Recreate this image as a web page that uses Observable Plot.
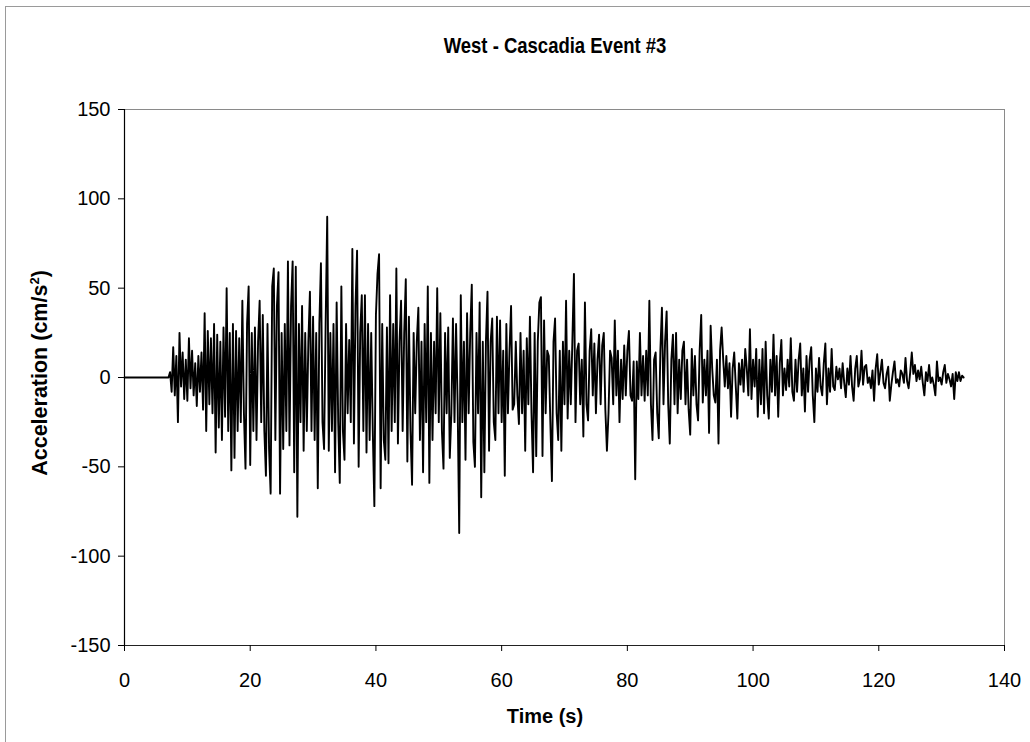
<!DOCTYPE html>
<html>
<head>
<meta charset="utf-8">
<script src="https://cdn.jsdelivr.net/npm/d3@7"></script>
<script src="https://cdn.jsdelivr.net/npm/@observablehq/plot@0.6"></script>
<style>
  html, body { margin: 0; padding: 0; background: #fff; }
  #wrap { position: relative; width: 1030px; height: 742px; overflow: hidden; font-family: Arial, "Liberation Sans", sans-serif; color: #000; }
  #outer { position: absolute; left: 5px; top: 6px; width: 1030px; height: 742px; border-left: 1px solid #9a9a9a; border-top: 1px solid #9a9a9a; }
  #title { position: absolute; left: 115px; width: 880px; top: 33px; text-align: center; font-weight: bold; font-size: 21.5px; line-height: 26px; transform: scaleX(0.86); }
  #xlabel { position: absolute; left: 345px; width: 400px; top: 705px; text-align: center; font-weight: bold; font-size: 20px; line-height: 22px; }
  #ylabel { position: absolute; left: 40px; top: 373px; transform: translate(-50%, -50%) rotate(-90deg); white-space: nowrap; font-weight: bold; font-size: 21.5px; line-height: 24px; }
  #ylabel sup { font-size: 13px; line-height: 0; }
  #chart { position: absolute; left: 0; top: 0; }
</style>
</head>
<body>
<div id="wrap">
  <div id="outer"></div>
  <div id="chart"></div>
  <div id="title">West - Cascadia Event #3</div>
  <div id="xlabel">Time (s)</div>
  <div id="ylabel">Acceleration (cm/s<sup>2</sup>)</div>
</div>
<script>
// Axis ticks
const xTicks = [0, 20, 40, 60, 80, 100, 120, 140];
const yTicks = [-150, -100, -50, 0, 50, 100, 150];

// Quiet record before the event arrives (s, cm/s^2)
const preEventTime = [0];
const preEventAccel = [0];

// Recorded acceleration, sampled every 0.25 s starting at t = 7.0 s (cm/s^2)
const sampleStart = 7.0;
const sampleStep = 0.25;

// 7.0 – 31.75 s
const accel07to32 = [
  0,3,-8,17,-10,12,-25,25,-5,14,-12,10,-13,22,-6,15,-10,8,-16,12,
  -8,14,-18,36,-30,26,-15,22,-20,30,-42,24,-28,20,-35,28,-22,50,-30,25,
  -52,30,-45,26,-30,22,-25,43,-20,-51,30,51,-49,25,-30,28,-35,20,43,-25,
  35,-30,-55,30,-40,-65,51,61,-35,40,59,-65,25,-40,30,-30,65,-38,40,65,
  -53,62,-78,30,-25,40,-41,25,-30,20,48,-30,34,-35,25,-62,30,64,-25,-40
];
// 32.0 – 56.75 s
const accel32to57 = [
  30,90,-41,25,-30,30,-53,42,-25,-59,51,-30,-46,30,-20,21,-25,72,-37,40,
  71,-50,25,46,-30,46,-42,30,-35,25,-30,-72,35,58,69,-62,30,-35,-46,28,
  -48,46,-30,30,-25,61,-37,20,43,-30,25,55,-47,34,-30,-60,25,-20,20,39,
  -35,20,-53,30,-25,51,-59,25,-35,20,-20,50,-25,36,-30,-51,25,-20,28,-45,
  -20,33,-25,30,-15,-87,46,-25,20,-46,36,-20,25,52,-36,-50,25,-20,42,-67
];
// 57.0 – 81.75 s
const accel57to82 = [
  20,-53,20,48,-41,20,33,-25,-35,34,-20,32,-25,15,-55,30,-20,15,40,-18,
  -15,20,-10,-26,25,-20,15,-41,22,-15,34,-20,-53,25,-44,20,42,45,-44,32,
  -20,15,12,-25,-58,20,33,-20,-35,15,-41,20,-15,43,-23,15,-15,20,58,-25,
  15,19,-15,10,-33,42,-15,-24,15,27,-10,19,-20,10,24,-15,18,25,-18,-41,
  -20,15,11,-15,32,-10,15,-25,10,-12,18,-10,15,26,-10,-13,9,-57,9,-12
];
// 82.0 – 106.75 s
const accel82to107 = [
  25,-10,12,-13,15,-10,43,-15,-35,10,14,-20,-34,15,39,-15,20,37,-15,-37,
  10,24,-15,25,-20,10,-12,15,20,-15,10,-18,-32,16,-10,12,-15,-24,15,35,
  -14,10,-10,15,-31,29,5,-10,-14,10,-37,15,28,10,-5,12,-6,8,-22,5,
  14,-5,-23,8,-4,10,-8,16,5,-10,27,-12,10,-5,16,-22,10,-15,16,-20,
  20,-10,-23,10,-8,24,-10,12,-22,8,21,-10,5,-7,10,-5,22,-8,-13,10
];
// 107.0 – 133.5 s
const accel107to134 = [
  -8,10,19,-10,5,-19,12,-8,10,17,-10,-25,5,-8,11,-5,-10,8,19,-15,
  5,-8,16,-5,-7,6,-1,5,-6,8,-3,-11,5,-4,12,-5,-13,5,12,-5,
  -1,15,-4,6,7,-3,0,-6,4,-13,5,13,-4,3,10,-3,-6,2,6,-13,
  -4,3,9,-3,-1,-5,4,2,-3,11,-2,-6,3,14,2,7,-2,4,-1,6,
  -3,-10,3,-2,7,-3,0,-4,-10,9,-2,0,-4,3,7,-3,2,-1,-5,2,
  -12,3,-2,3,-2,1,0
];

const recorded = [].concat(accel07to32, accel32to57, accel57to82, accel82to107, accel107to134);
const data = preEventTime.map((t, i) => ({t, a: preEventAccel[i]}))
  .concat(recorded.map((a, i) => ({t: sampleStart + i * sampleStep, a})));

const fmt = d => String(d);

const chart = Plot.plot({
  width: 1030,
  height: 742,
  marginLeft: 124,
  marginRight: 26,
  marginTop: 109,
  marginBottom: 97,
  style: {fontFamily: 'Arial, "Liberation Sans", sans-serif', fontSize: "20px", background: "transparent", color: "#000", overflow: "visible"},
  x: {domain: [0, 140]},
  y: {domain: [-150, 150]},
  marks: [
    Plot.frame({stroke: "#8a8a8a", strokeWidth: 1}),
    Plot.ruleX([0], {stroke: "#000", strokeWidth: 1.2}),
    Plot.ruleY([-150], {stroke: "#222", strokeWidth: 1.2}),
    Plot.axisX({ticks: xTicks, tickFormat: fmt, tickSize: 6, tickPadding: 21, label: null, fontSize: 20}),
    Plot.axisY({ticks: yTicks, tickFormat: fmt, tickSize: 6, tickPadding: 8, label: null, fontSize: 20}),
    Plot.line(data, {x: "t", y: "a", stroke: "#000", strokeWidth: 1.9})
  ]
});
document.getElementById("chart").appendChild(chart);
</script>
</body>
</html>
